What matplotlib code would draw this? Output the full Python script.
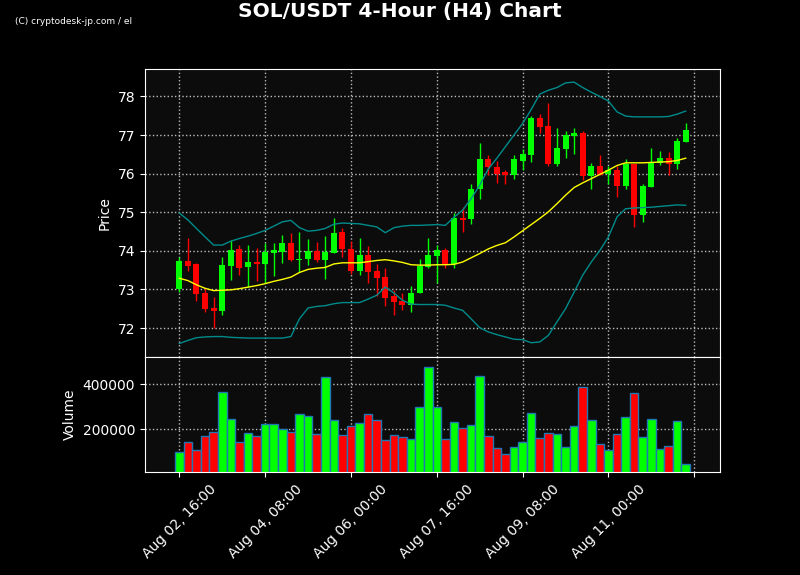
import matplotlib
matplotlib.use("Agg")
import matplotlib.pyplot as plt
import numpy as np
from matplotlib.ticker import ScalarFormatter
from matplotlib import font_manager

# ---------------- data ----------------
opens = [73.01, 73.74, 73.66, 72.91, 72.53, 72.45, 73.62, 74.05, 73.57, 73.72,
         73.67, 73.95, 73.98, 74.21, 73.75, 73.79, 74.00, 73.76, 73.95, 74.50,
         74.05, 73.47, 73.88, 73.47, 73.32, 72.83, 72.70, 72.61, 72.91, 73.58,
         73.87, 74.01, 73.67, 74.85, 74.82, 75.59, 76.39, 76.16, 76.04, 75.97,
         76.34, 76.47, 77.44, 77.23, 76.24, 76.63, 76.97, 77.04, 75.94, 76.19,
         76.00, 76.09, 75.68, 76.24, 74.93, 75.65, 76.27, 76.41, 76.26, 76.82]
highs = [73.85, 74.33, 73.68, 73.03, 72.81, 73.83, 74.27, 74.15, 74.15, 74.08,
         74.20, 74.20, 74.41, 74.46, 74.50, 74.30, 74.22, 74.39, 74.84, 74.59,
         74.26, 74.33, 74.12, 73.65, 73.55, 72.98, 72.91, 73.09, 73.79, 74.34,
         74.14, 74.08, 74.99, 75.13, 75.72, 76.80, 76.49, 76.34, 76.10, 76.49,
         76.65, 77.48, 77.55, 77.84, 77.17, 77.10, 77.17, 77.10, 76.28, 76.49,
         76.21, 76.21, 76.37, 76.24, 75.72, 76.66, 76.59, 76.56, 76.91, 77.30]
lows = [72.94, 73.48, 72.70, 72.42, 71.99, 72.33, 73.24, 73.37, 73.06, 73.22,
        73.16, 73.35, 73.68, 73.74, 73.44, 73.63, 73.72, 73.26, 73.94, 73.85,
        73.40, 73.38, 73.17, 72.83, 72.57, 72.35, 72.48, 72.42, 72.91, 73.55,
        73.17, 73.56, 73.56, 74.49, 74.70, 75.35, 75.97, 75.77, 75.72, 75.87,
        76.10, 76.30, 77.06, 76.20, 76.20, 76.41, 76.52, 75.83, 75.59, 75.97,
        75.72, 75.39, 75.59, 74.61, 74.76, 75.65, 76.23, 75.96, 76.13, 76.82]
closes = [73.74, 73.62, 72.89, 72.49, 72.45, 73.63, 74.02, 73.56, 73.71, 73.67,
          73.97, 74.02, 74.21, 73.75, 73.79, 74.00, 73.76, 73.98, 74.46, 74.04,
          73.49, 73.88, 73.45, 73.30, 72.78, 72.68, 72.60, 72.92, 73.62, 73.88,
          74.01, 73.65, 74.85, 74.81, 75.59, 76.39, 76.16, 76.00, 75.96, 76.37,
          76.50, 77.44, 77.21, 76.24, 76.66, 76.99, 77.04, 75.93, 76.19, 75.97,
          76.09, 75.68, 76.24, 74.93, 75.67, 76.28, 76.41, 76.26, 76.84, 77.12]
volumes = [100400, 142200, 109300, 168900, 186700, 367100, 244400, 142200, 182200, 168900,
           222200, 224900, 200000, 186700, 269300, 257800, 177800, 431100, 240000, 173300,
           213300, 226700, 266700, 240000, 151100, 173300, 164400, 155600, 297800, 475600,
           300400, 155600, 231100, 204400, 217800, 435600, 168900, 115600, 93300, 120000,
           142200, 271100, 160000, 182200, 177800, 120000, 213300, 386700, 240000, 133300,
           106700, 177800, 253300, 360000, 164400, 244400, 111100, 124400, 235600, 48900]
ma20 = [73.29, 73.23, 73.12, 73.03, 72.97, 72.98, 72.99, 73.02, 73.06, 73.10,
        73.15, 73.21, 73.26, 73.32, 73.44, 73.52, 73.55, 73.57, 73.66, 73.69,
        73.69, 73.69, 73.72, 73.75, 73.77, 73.74, 73.70, 73.64, 73.63, 73.63,
        73.64, 73.64, 73.65, 73.71, 73.82, 73.93, 74.05, 74.14, 74.21, 74.36,
        74.52, 74.68, 74.84, 75.01, 75.22, 75.44, 75.64, 75.76, 75.87, 75.98,
        76.09, 76.21, 76.28, 76.28, 76.28, 76.29, 76.30, 76.31, 76.34, 76.40]
upper = [74.98, 74.80, 74.58, 74.36, 74.15, 74.15, 74.25, 74.32, 74.38, 74.45,
         74.53, 74.64, 74.75, 74.79, 74.60, 74.51, 74.53, 74.58, 74.69, 74.72,
         74.71, 74.70, 74.66, 74.62, 74.47, 74.60, 74.64, 74.66, 74.66, 74.67,
         74.68, 74.66, 74.87, 75.05, 75.35, 75.70, 76.12, 76.40, 76.70, 77.00,
         77.30, 77.66, 78.06, 78.16, 78.23, 78.35, 78.37, 78.23, 78.11, 78.00,
         77.88, 77.60, 77.49, 77.47, 77.47, 77.47, 77.47, 77.48, 77.54, 77.62]
lower = [71.60, 71.68, 71.75, 71.77, 71.78, 71.78, 71.76, 71.75, 71.74, 71.74,
         71.74, 71.74, 71.74, 71.78, 72.24, 72.52, 72.56, 72.58, 72.63, 72.66,
         72.66, 72.66, 72.75, 72.85, 73.06, 72.91, 72.72, 72.62, 72.61, 72.61,
         72.61, 72.59, 72.52, 72.46, 72.24, 72.01, 71.90, 71.83, 71.77, 71.71,
         71.70, 71.62, 71.64, 71.81, 72.16, 72.50, 72.93, 73.37, 73.71, 74.01,
         74.36, 74.88, 75.09, 75.11, 75.12, 75.13, 75.15, 75.17, 75.19, 75.18]
tick_labels = ["Aug 02, 16:00", "Aug 04, 08:00", "Aug 06, 00:00",
               "Aug 07, 16:00", "Aug 09, 08:00", "Aug 11, 00:00", ""]

# ---------------- figure ----------------
UP = "#00ff00"
DOWN = "#ff0000"
BG = "#000000"
AXBG = "#0c0c0c"

fig = plt.figure(figsize=(8, 5.75), dpi=100, facecolor=BG)
ax = fig.add_axes([0.18125, 0.3791, 0.71875, 0.5009])
axv = fig.add_axes([0.18125, 0.1791, 0.71875, 0.2000], sharex=ax)

x = np.arange(len(opens))
o = np.array(opens); h = np.array(highs); l = np.array(lows); c = np.array(closes)
up = c >= o
colors = np.where(up, UP, DOWN)

for a in (ax, axv):
    a.set_facecolor(AXBG)
    for s in a.spines.values():
        s.set_color("white")
    a.tick_params(colors="white", labelsize=10)
    a.grid(True, color="#bbbbbb", linestyle=":", linewidth=1)
    a.set_axisbelow(True)

# wicks
ax.vlines(x, l, h, colors=colors, linewidth=1, zorder=2)
# bodies
body_bottom = np.minimum(o, c)
body_h = np.maximum(np.abs(c - o), 0.02)
ax.bar(x, body_h, bottom=body_bottom, width=0.7, color=colors, zorder=3, linewidth=0)

ax.plot(x, ma20, color="#ffff00", linewidth=1, zorder=4)
ax.plot(x, upper, color="#008b8b", linewidth=1, zorder=4)
ax.plot(x, lower, color="#008b8b", linewidth=1, zorder=4)

ax.set_ylim(71.25, 78.71)
ax.set_xlim(-4, 63)
ax.set_yticks([72, 73, 74, 75, 76, 77, 78])
ax.set_ylabel("Price", color="white", fontsize=10)
plt.setp(ax.get_xticklabels(), visible=False)
ax.tick_params(axis="x", length=0)

axv.bar(x, volumes, width=1.0, color=colors, edgecolor="#1f77b4", linewidth=1)
axv.set_ylim(11500, 520000)
axv.set_yticks([200000, 400000])
fmt = ScalarFormatter(useOffset=False)
fmt.set_scientific(False)
axv.yaxis.set_major_formatter(fmt)
axv.set_ylabel("Volume", color="white", fontsize=10)
axv.set_xticks(np.arange(0, 61, 10))
axv.set_xticklabels(tick_labels, rotation=45)

fig.suptitle("SOL/USDT 4-Hour (H4) Chart", color="white", fontsize=14.5,
             fontweight="bold", y=0.997)

names = {f.name for f in font_manager.fontManager.ttflist}
if "Liberation Sans Narrow" in names:
    wm_family = ["Liberation Sans Narrow", "DejaVu Sans"]
    wm_size = 7.5
else:
    wm_family = ["DejaVu Sans"]
    wm_size = 6.5
fig.text(0.019, 0.963, "(C) cryptodesk-jp.com / el", color="white", fontsize=wm_size,
         family=wm_family, va="center")

fig.savefig("out.png", dpi=100, facecolor=BG)
